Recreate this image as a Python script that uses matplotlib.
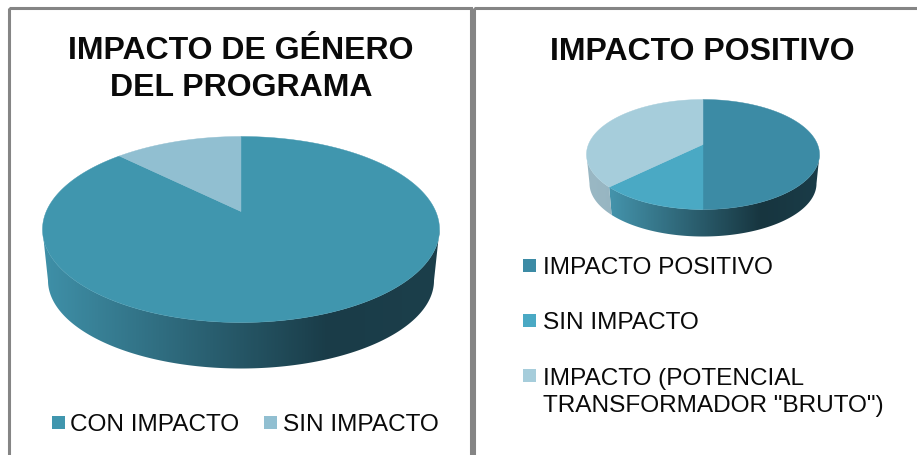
import numpy as np
import matplotlib
matplotlib.use("Agg")
import matplotlib.pyplot as plt
from matplotlib.patches import Polygon, Rectangle
from matplotlib.colors import LinearSegmentedColormap

plt.rcParams['font.family'] = ['Liberation Sans', 'DejaVu Sans']

left_title = "IMPACTO DE GÉNERO\nDEL PROGRAMA"
left_labels = ["CON IMPACTO", "SIN IMPACTO"]
left_values = [89.5, 10.5]
left_colors = ["#4096ae", "#91bfd1"]

right_title = "IMPACTO POSITIVO"
right_labels = ["IMPACTO POSITIVO", "SIN IMPACTO", "IMPACTO (POTENCIAL\nTRANSFORMADOR \"BRUTO\")"]
right_values = [50.0, 14.9, 35.1]
right_colors = ["#3c8ba5", "#4aa9c4", "#a6cddb"]

W, H = 917, 456
fig = plt.figure(figsize=(W / 100, H / 100), dpi=100, facecolor="white")
ax = fig.add_axes([0, 0, 1, 1])
ax.set_xlim(0, W)
ax.set_ylim(H, 0)
ax.axis("off")


def ell(t, cx, cy, rx, ry):
    return np.column_stack([cx + rx * np.sin(t), cy - ry * np.cos(t)])


def draw_pie(values, colors, geo, side_cmaps):
    cx, cy, rx, ry, apex, bcy, brx, bry = geo
    edges = np.cumsum([0] + list(values)) / sum(values) * 2 * np.pi
    # sides: visible only on the lower half of the rim
    for i, c in enumerate(colors):
        a, b = max(edges[i], np.pi / 2), min(edges[i + 1], 3 * np.pi / 2)
        if b <= a:
            continue
        t = np.linspace(a, b, 200)
        top = ell(t, cx, cy, rx, ry)
        bot = ell(t, cx, bcy, brx, bry)
        pts = np.vstack([top, bot[::-1]])
        poly = Polygon(pts, closed=True, fc="none", ec="none")
        ax.add_patch(poly)
        g = np.linspace(0, 1, 400).reshape(1, -1)
        im = ax.imshow(g, extent=(cx - rx, cx + rx, pts[:, 1].max() + 1, pts[:, 1].min()),
                       cmap=side_cmaps[i], vmin=0, vmax=1, aspect="auto", zorder=2,
                       interpolation="bilinear")
        im.set_clip_path(poly)
    # top faces
    for i, c in enumerate(colors):
        t = np.linspace(edges[i], edges[i + 1], 300)
        pts = np.vstack([[[cx, apex]], ell(t, cx, cy, rx, ry)])
        ax.add_patch(Polygon(pts, closed=True, fc=c, ec=c, lw=0.3, zorder=3))
    ax.set_xlim(0, W)
    ax.set_ylim(H, 0)


def cm(cols, pos):
    return LinearSegmentedColormap.from_list("c", list(zip(pos, cols)))


main = cm(["#3f90a8", "#1a3c48", "#1c3f4b"], [0, 0.72, 1])
draw_pie(left_values, left_colors, (241, 230.5, 198.5, 93, 212.5, 281.5, 193, 88), [main, main])

right_dark = cm(["#4493ab", "#4493ab", "#17353f", "#1a3c48"], [0, 0.1, 0.75, 1])
right_grey = cm(["#9ab8c4", "#7f9fac"], [0, 1])
draw_pie(right_values, right_colors, (703, 155.5, 116.5, 55, 145.5, 184.5, 113.5, 53),
         [right_dark, right_dark, right_grey])

# panel frames
frame = "#858585"
ax.add_patch(Rectangle((8.5, 8.5), 462.5, 460, fc="none", ec=frame, lw=2.2, zorder=5))
ax.add_patch(Rectangle((473.5, 9), 460, 460, fc="none", ec=frame, lw=2.2, zorder=5))

# titles
ax.text(241, 69.5, left_title, ha="center", va="center", fontsize=23, fontweight="bold",
        color="#0a0a0a", linespacing=1.3, zorder=6)
ax.text(702, 51.5, right_title, ha="center", va="center", fontsize=23, fontweight="bold",
        color="#0a0a0a", zorder=6)

# legends: marker left edge, marker top, text left edge, text baseline
left_layout = [(52.3, 417, 70, 431.5), (264.3, 417, 283.3, 431.5)]
right_layout = [(523.3, 260, 542.7, 274), (523.3, 315, 542.7, 329), (523.3, 369.5, 542.7, 412)]
for labels, colors, layout in ((left_labels, left_colors, left_layout),
                               (right_labels, right_colors, right_layout)):
    for lab, col, (mx, my, tx, ty) in zip(labels, colors, layout):
        ax.add_patch(Rectangle((mx, my), 13, 13, fc=col, ec="none", zorder=6))
        ax.text(tx, ty, lab, ha="left", va="baseline", fontsize=17.6, color="#0a0a0a",
                linespacing=1.29, zorder=6, multialignment="left")

fig.savefig("out.png", dpi=100)
